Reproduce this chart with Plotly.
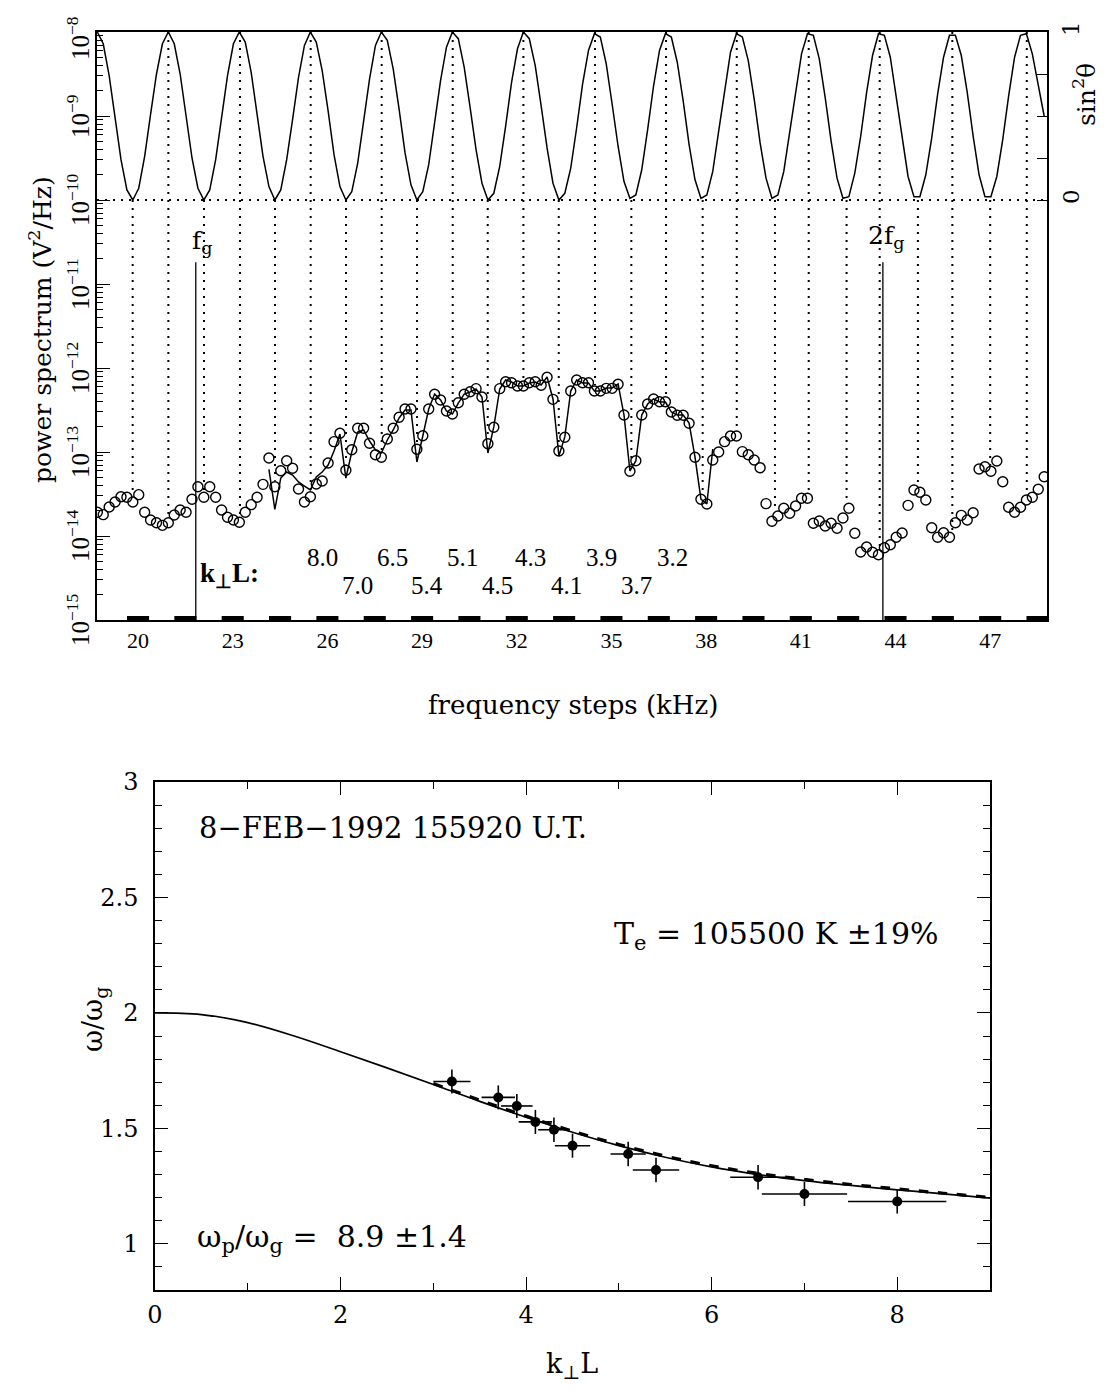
import plotly.graph_objects as go

# page body adds an 8px margin; the figure is sized so that it fits the window
OFF = 8
FW, FH = 1110 - 2 * OFF, 1396 - 2 * OFF
SERIF = "DejaVu Serif"
TIMES = "Liberation Serif"


def px(v):
    return (v - OFF) / FW


def py(v):
    return 1 - (v - OFF) / FH


# ---------------- top panel data ----------------
FREQ_START = 18.71   # kHz, first frequency step
FREQ_STEP = 0.1875   # kHz between steps

# log10 of power spectrum (V^2/Hz), one value per frequency step
log_power = [
    -13.718, -13.746, -13.655, -13.595, -13.532, -13.539, -13.595, -13.508, -13.718, -13.810,
    -13.842, -13.873, -13.842, -13.750, -13.690, -13.718, -13.563, -13.413, -13.539, -13.413,
    -13.539, -13.690, -13.777, -13.810, -13.837, -13.718, -13.627, -13.539, -13.385, -13.071,
    -13.413, -13.223, -13.104, -13.194, -13.440, -13.595, -13.532, -13.381, -13.345, -13.131,
    -12.877, -12.777, -13.218, -12.973, -12.718, -12.718, -12.896, -13.032, -13.063, -12.845,
    -12.718, -12.587, -12.488, -12.488, -12.968, -12.806, -12.488, -12.313, -12.381, -12.512,
    -12.548, -12.413, -12.313, -12.282, -12.246, -12.345, -12.901, -12.706, -12.246, -12.163,
    -12.175, -12.214, -12.214, -12.175, -12.163, -12.206, -12.111, -12.373, -12.988, -12.825,
    -12.274, -12.143, -12.175, -12.175, -12.274, -12.274, -12.242, -12.242, -12.194, -12.560,
    -13.230, -13.104, -12.560, -12.429, -12.369, -12.401, -12.401, -12.524, -12.563, -12.563,
    -12.658, -13.063, -13.563, -13.619, -13.095, -13.000, -12.877, -12.810, -12.810, -12.996,
    -13.032, -13.095, -13.187, -13.615, -13.825, -13.762, -13.670, -13.730, -13.643, -13.551,
    -13.551, -13.849, -13.821, -13.881, -13.849, -13.908, -13.786, -13.670, -13.968, -14.190,
    -14.131, -14.194, -14.223, -14.139, -14.104, -14.015, -13.964, -13.635, -13.452, -13.480,
    -13.571, -13.901, -14.015, -13.961, -14.015, -13.842, -13.754, -13.810, -13.723, -13.202,
    -13.175, -13.230, -13.107, -13.354, -13.658, -13.718, -13.658, -13.571, -13.539, -13.444,
    -13.294,
]

# sin^2(theta) at each frequency step (right axis)
sin2_theta = [
    1.00, 0.93, 0.74, 0.49, 0.24, 0.06,
    0.00, 0.07, 0.26, 0.51, 0.75, 0.93, 1.00, 0.93, 0.75, 0.50, 0.25, 0.07,
    0.00, 0.06, 0.24, 0.49, 0.74, 0.93, 1.00, 0.94, 0.76, 0.51, 0.26, 0.08,
    0.00, 0.06, 0.24, 0.48, 0.73, 0.92, 1.00, 0.94, 0.77, 0.53, 0.27, 0.08,
    0.00, 0.05, 0.22, 0.47, 0.72, 0.92, 1.00, 0.95, 0.78, 0.54, 0.28, 0.09,
    0.00, 0.05, 0.21, 0.46, 0.71, 0.91, 1.00, 0.96, 0.79, 0.55, 0.30, 0.10,
    0.00, 0.04, 0.20, 0.44, 0.70, 0.90, 1.00, 0.96, 0.80, 0.56, 0.31, 0.10,
    0.00, 0.04, 0.19, 0.43, 0.69, 0.89, 0.99, 0.97, 0.81, 0.57, 0.32, 0.11,
    0.01, 0.03, 0.18, 0.42, 0.68, 0.89, 0.99, 0.97, 0.82, 0.59, 0.33, 0.12,
    0.01, 0.03, 0.17, 0.41, 0.66, 0.88, 0.99, 0.97, 0.83, 0.60, 0.34, 0.13,
    0.01, 0.03, 0.17, 0.40, 0.65, 0.87, 0.99, 0.98, 0.84, 0.61, 0.35, 0.13,
    0.01, 0.02, 0.16, 0.38, 0.64, 0.86, 0.99, 0.98, 0.85, 0.62, 0.37, 0.14,
    0.02, 0.02, 0.15, 0.37, 0.63, 0.85, 0.98, 0.98, 0.86, 0.64, 0.38, 0.15,
    0.02, 0.02, 0.14, 0.36, 0.62, 0.85, 0.98, 0.99, 0.87, 0.68, 0.50,
]

# model curve (log10 V^2/Hz) starting at step index MODEL_START
MODEL_START = 29
log_model = [
    -13.206, -13.682, -13.310, -13.238, -13.274, -13.357, -13.405, -13.452, -13.298, -13.238,
    -13.155, -12.988, -12.786, -13.310, -13.000, -12.762, -12.738, -12.869, -12.976, -13.012,
    -12.857, -12.738, -12.595, -12.500, -12.500, -13.119, -12.810, -12.488, -12.310, -12.381,
    -12.512, -12.548, -12.417, -12.310, -12.286, -12.250, -12.345, -13.012, -12.702, -12.250,
    -12.143, -12.167, -12.214, -12.214, -12.179, -12.167, -12.202, -12.107, -12.369, -13.048,
    -12.821, -12.274, -12.143, -12.179, -12.179, -12.274, -12.274, -12.238, -12.238, -12.190,
    -12.560, -13.226, -13.107, -12.560, -12.429, -12.369, -12.405, -12.405, -12.524, -12.560,
    -12.560, -12.655, -13.060, -13.560, -13.619, -12.964,
]

# frequencies (kHz) of sin^2 minima and maxima (dotted guide lines)
sin2_min_freqs = [19.83, 22.09, 24.34, 26.59, 28.84, 31.08, 33.33, 35.63, 37.89, 40.18, 42.45, 44.71, 47.00]
sin2_max_freqs = [20.96, 23.23, 25.47, 27.72, 29.97, 32.21, 34.48, 36.73, 38.97, 41.25, 43.50, 45.80, 48.16]

# frequency sweep steps marked along the bottom axis (centres, kHz)
sweep_centers = [20.0, 21.5, 23.0, 24.5, 26.0, 27.5, 29.0, 30.5, 32.0, 33.5,
                 35.0, 36.5, 38.0, 39.5, 41.0, 42.5, 44.0, 45.5, 47.0, 48.5]
SWEEP_HALF = 0.35

F_G = 21.83      # gyrofrequency (kHz)
F_2G = 43.60     # second harmonic (kHz)
LOG_FG_TOP = -10.74

x_ticks_top = [20, 23, 26, 29, 32, 35, 38, 41, 44, 47]
decades = [-15, -14, -13, -12, -11, -10, -9, -8]

# k_perp L labels (upper row at sin^2 maxima, lower row at minima)
kL_row1 = ["8.0", "6.5", "5.1", "4.3", "3.9", "3.2"]
kL_row1_f = [25.83, 28.05, 30.27, 32.45, 34.70, 36.92]
kL_row2 = ["7.0", "5.4", "4.5", "4.1", "3.7"]
kL_row2_f = [26.94, 29.16, 31.38, 33.56, 35.78]

# ---------------- bottom panel data ----------------
kL_meas = [3.2, 3.7, 3.9, 4.1, 4.3, 4.5, 5.1, 5.4, 6.5, 7.0, 8.0]
w_ratio = [1.703, 1.634, 1.597, 1.528, 1.494, 1.425, 1.389, 1.320, 1.288, 1.216, 1.183]
kL_err = [0.20, 0.18, 0.17, 0.18, 0.17, 0.19, 0.19, 0.25, 0.30, 0.46, 0.53]
w_err = [0.052, 0.052, 0.052, 0.052, 0.053, 0.052, 0.053, 0.053, 0.053, 0.052, 0.052]

kL_curve = [0, 0.5, 1, 1.5, 2, 2.5, 3, 3.5, 4, 4.5, 5, 5.5, 6, 6.5, 7, 7.5, 8, 8.5, 9]
w_curve = [2.000, 1.993, 1.958, 1.900, 1.832, 1.762, 1.690, 1.617, 1.548, 1.483, 1.425,
           1.375, 1.333, 1.300, 1.274, 1.253, 1.234, 1.216, 1.198]
kL_curve2 = [3, 3.5, 4, 4.5, 5, 5.5, 6, 6.5, 7, 7.5, 8, 8.5, 9]
w_curve2 = [1.694, 1.622, 1.553, 1.488, 1.430, 1.380, 1.338, 1.305, 1.279, 1.257, 1.238, 1.219, 1.201]

# ---------------- derived ----------------
freq = [FREQ_START + FREQ_STEP * i for i in range(len(log_power))]
power = [10 ** v for v in log_power]
model_freq = freq[MODEL_START:MODEL_START + len(log_model)]
model_power = [10 ** v for v in log_model]


def nearest_power(f):
    i = int(round((f - FREQ_START) / FREQ_STEP))
    i = max(0, min(len(power) - 1, i))
    return power[i] * 10 ** 0.07


def to_sin2_axis(log_value):
    # right axis: sin^2 = 0 at 1e-10, sin^2 = 1 at 1e-8
    return (log_value + 10) / 2


dot_x, dot_y = [], []
for f in sin2_min_freqs:
    dot_x += [f, f, None]
    dot_y += [1e-10, nearest_power(f), None]
for f in sin2_max_freqs:
    dot_x += [f, f, None]
    dot_y += [1e-8, nearest_power(f), None]

sw_x, sw_y = [], []
for c in sweep_centers:
    sw_x += [c - SWEEP_HALF, c + SWEEP_HALF, None]
    sw_y += [1e-15, 1e-15, None]

DOTS = "2px,6px"

fig = go.Figure()

fig.add_trace(go.Scatter(x=dot_x, y=dot_y, mode="lines", xaxis="x", yaxis="y",
                         line=dict(color="black", width=2, dash=DOTS), hoverinfo="skip"))
fig.add_trace(go.Scatter(x=freq, y=sin2_theta, mode="lines", xaxis="x", yaxis="y2",
                         line=dict(color="black", width=1.5)))
fig.add_trace(go.Scatter(x=model_freq, y=model_power, mode="lines", xaxis="x", yaxis="y",
                         line=dict(color="black", width=1.5)))
fig.add_trace(go.Scatter(x=freq, y=power, mode="markers", xaxis="x", yaxis="y",
                         marker=dict(symbol="circle-open", size=10, color="black",
                                     line=dict(width=1.4, color="black"))))
for fx in (F_G, F_2G):
    fig.add_trace(go.Scatter(x=[fx, fx], y=[1e-15, 10 ** LOG_FG_TOP], mode="lines",
                             xaxis="x", yaxis="y", line=dict(color="black", width=1.3)))
fig.add_trace(go.Scatter(x=sw_x, y=sw_y, mode="lines", xaxis="x", yaxis="y",
                         line=dict(color="black", width=8)))

fig.add_trace(go.Scatter(x=kL_curve, y=w_curve, mode="lines", xaxis="x2", yaxis="y3",
                         line=dict(color="black", width=1.7, shape="spline")))
fig.add_trace(go.Scatter(x=kL_curve2, y=w_curve2, mode="lines", xaxis="x2", yaxis="y3",
                         line=dict(color="black", width=3.2, dash="dash", shape="spline")))
fig.add_trace(go.Scatter(x=kL_meas, y=w_ratio, mode="markers", xaxis="x2", yaxis="y3",
                         marker=dict(symbol="circle", size=10, color="black"),
                         error_x=dict(type="data", array=kL_err, color="black", thickness=1.6, width=0),
                         error_y=dict(type="data", array=w_err, color="black", thickness=1.6, width=0)))

common = dict(automargin=False, showgrid=False, zeroline=False)

fig.update_layout(
    template="none",
    width=FW, height=FH, showlegend=False,
    paper_bgcolor="white", plot_bgcolor="white",
    margin=dict(l=0, r=0, t=0, b=0, pad=0, autoexpand=False),
    font=dict(family=SERIF, color="black"),
    xaxis=dict(domain=[px(97), px(1047)], range=[18.70, 48.80], anchor="y",
               tickmode="array", tickvals=x_ticks_top, ticks="",
               showline=True, mirror=True, linecolor="black", linewidth=1.5,
               tickfont=dict(family=TIMES, size=22), ticklabelstandoff=0, **common),
    yaxis=dict(domain=[py(620), py(32)], type="log", range=[-15, -8], anchor="x",
               dtick=1, showticklabels=False,
               ticks="inside", ticklen=13, tickcolor="black", tickwidth=1.2,
               minor=dict(dtick="D1", ticks="inside", ticklen=6, tickcolor="black", tickwidth=1),
               showline=True, mirror=True, linecolor="black", linewidth=1.5, **common),
    yaxis2=dict(overlaying="y", side="right", anchor="x", range=[-2.5, 1],
                tickmode="array", tickvals=[0, 0.25, 0.5, 0.75, 1],
                ticktext=["0", "", "", "", "1"], tickangle=-90,
                ticks="inside", ticklen=10, tickcolor="black", tickwidth=1.2,
                showline=False, ticklabeloverflow="allow",
                tickfont=dict(family=SERIF, size=23), ticklabelstandoff=8, **common),
    xaxis2=dict(domain=[px(155), px(990)], range=[0, 9], anchor="y3",
                dtick=2, tick0=0, ticks="inside", ticklen=13, tickcolor="black", tickwidth=1.2,
                minor=dict(dtick=1, ticks="inside", ticklen=7, tickcolor="black", tickwidth=1),
                mirror="allticks", showline=True, linecolor="black", linewidth=1.5,
                tickfont=dict(family=SERIF, size=24), ticklabelstandoff=2, **common),
    yaxis3=dict(domain=[py(1290), py(782)], range=[0.8, 3.0], anchor="x2",
                dtick=0.5, tick0=0, ticks="inside", ticklen=13, tickcolor="black", tickwidth=1.2,
                minor=dict(dtick=0.1, tick0=0, ticks="inside", ticklen=7, tickcolor="black", tickwidth=1),
                mirror="allticks", showline=True, linecolor="black", linewidth=1.5,
                ticklabeloverflow="allow",
                tickfont=dict(family=SERIF, size=24), ticklabelstandoff=10, **common),
)

fig.add_shape(type="line", xref="x domain", yref="y2", x0=0, x1=1, y0=0, y1=0,
              line=dict(color="black", width=2, dash=DOTS))


def paper_text(text, x, y, size, angle=0, xanchor="center"):
    return dict(text=text, xref="paper", yref="paper", x=px(x), y=py(y),
                xanchor=xanchor, yanchor="middle", textangle=angle, showarrow=False,
                font=dict(family=SERIF, size=size))


def data_text(text, x, y, size, family=SERIF):
    return dict(text=text, xref="x", yref="y2", x=x, y=y, xanchor="center",
                yanchor="middle", showarrow=False, font=dict(family=family, size=size))


ann = [
    paper_text("power spectrum (V<sup>2</sup>/Hz)", 40, 330, 25, angle=-90),
    paper_text("sin<sup>2</sup>θ", 1085, 95, 25, angle=-90),
    paper_text("frequency steps (kHz)", 573, 705, 26),
    paper_text("ω/ω<sub>g</sub>", 95, 1020, 27, angle=-90),
    paper_text("k<sub>⊥</sub>L", 572, 1365, 27),
    paper_text("8−FEB−1992 155920 U.T.", 197, 828, 29, xanchor="left"),
    paper_text("T<sub>e</sub> = 105500 K ±19%", 940, 935, 30, xanchor="right"),
    paper_text("ω<sub>p</sub>/ω<sub>g</sub> =  8.9 ±1.4", 195, 1238, 30, xanchor="left"),
    data_text("f<sub>g</sub>", F_G + 0.2, -0.25, 25),
    data_text("2f<sub>g</sub>", F_2G + 0.1, -0.22, 25),
    data_text("<b>k<sub>⊥</sub>L:</b>", 22.9, -2.232, 27, family=TIMES),
]
# left-axis decade labels (rotated like the original)
for d in decades:
    ann.append(dict(text="10<sup>−%d</sup>" % (-d), xref="paper", yref="y2",
                    x=px(78), y=to_sin2_axis(d), xanchor="center", yanchor="middle",
                    textangle=-90, showarrow=False, yshift=(-6 if d == -8 else 0),
                    font=dict(family=TIMES, size=25)))
for t, f in zip(kL_row1, kL_row1_f):
    ann.append(data_text(t, f, -2.125, 25, family=TIMES))
for t, f in zip(kL_row2, kL_row2_f):
    ann.append(data_text(t, f, -2.292, 25, family=TIMES))
fig.update_layout(annotations=ann)

fig.write_html("out.html")
